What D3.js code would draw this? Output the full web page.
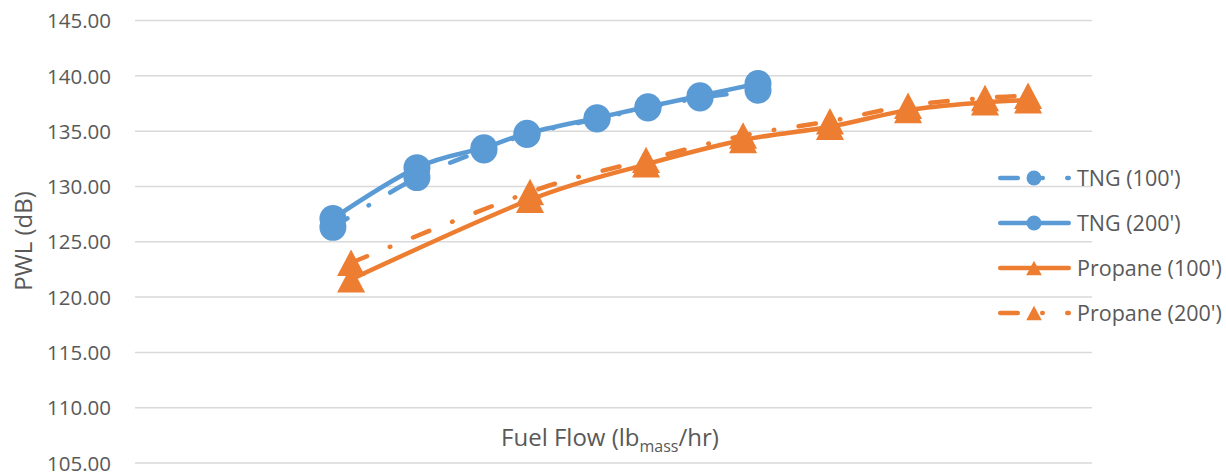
<!DOCTYPE html>
<html>
<head>
<meta charset="utf-8">
<script src="https://cdn.jsdelivr.net/npm/d3@7"></script>
<style>
  html, body { margin: 0; padding: 0; background: #fff; }
  svg { display: block; }
  text { font-family: "Open Sans", "Liberation Sans", sans-serif; fill: #595959; }
</style>
</head>
<body>
<svg id="chart" width="1226" height="476"></svg>
<script>
// ---- data ----
const yTicks = [105, 110, 115, 120, 125, 130, 135, 140, 145];
const tngFlow = [10.34, 14.73, 18.23, 20.48, 24.14, 26.80, 29.52, 32.55];
const tng100 = [126.3, 130.8, 133.3, 134.7, 136.1, 137.1, 138.0, 138.7];
const tng200 = [127.1, 131.7, 133.5, 134.8, 136.2, 137.2, 138.2, 139.3];
const propaneFlow = [11.29, 20.64, 26.70, 31.77, 36.31, 40.39, 44.41, 46.66];
const propane100 = [121.6, 128.8, 132.0, 134.2, 135.4, 136.9, 137.6, 137.8];
const propane200 = [123.1, 129.5, 132.4, 134.6, 135.9, 137.3, 138.0, 138.2];
const seriesNames = ["TNG (100')", "TNG (200')", "Propane (100')", "Propane (200')"];

const BLUE = "#5B9BD5", ORANGE = "#ED7D31";
const series = [
  { name: seriesNames[0], x: tngFlow, y: tng100, color: BLUE, dashed: true, marker: "circle" },
  { name: seriesNames[1], x: tngFlow, y: tng200, color: BLUE, dashed: false, marker: "circle" },
  { name: seriesNames[2], x: propaneFlow, y: propane100, color: ORANGE, dashed: false, marker: "triangle" },
  { name: seriesNames[3], x: propaneFlow, y: propane200, color: ORANGE, dashed: true, marker: "triangle" }
];

const svg = d3.select("#chart");
const plot = { left: 135, right: 1092, top: 20.5, bottom: 463 };
const x = d3.scaleLinear().domain([0, 50]).range([plot.left, plot.right]);
const y = d3.scaleLinear().domain([105, 145]).range([plot.bottom, plot.top]);

const DASH = "17.5 24.5 0.5 24.5";
const LW = 4.5;

// gridlines
svg.append("g").selectAll("line").data(yTicks).join("line")
  .attr("x1", plot.left).attr("x2", plot.right)
  .attr("y1", d => y(d)).attr("y2", d => y(d))
  .attr("stroke", "#D9D9D9").attr("stroke-width", 1.5);

// y axis tick labels
const yAxis = d3.axisLeft(y).tickValues(yTicks).tickFormat(d3.format(".2f")).tickSize(0).tickPadding(0);
const gy = svg.append("g").attr("transform", `translate(111,0)`).call(yAxis);
gy.select(".domain").remove();
gy.selectAll("text").attr("font-size", 20.5).attr("fill", "#595959")
  .style("font-family", '"Open Sans", "Liberation Sans", sans-serif').attr("dy", "0.35em").attr("x", 0);

// axis titles
svg.append("text").attr("transform", "translate(22,241) rotate(-90)")
  .attr("text-anchor", "middle").attr("dominant-baseline", "central")
  .attr("font-size", 24).text("PWL (dB)");

const xt = svg.append("text").attr("x", 610).attr("y", 446).attr("text-anchor", "middle").attr("font-size", 24);
xt.append("tspan").text("Fuel Flow (lb");
xt.append("tspan").attr("dy", 6).attr("font-size", 16).text("mass");
xt.append("tspan").attr("dy", -6).text("/hr)");

// markers
function triPath(w, h) {
  return `M0,${-h / 2}L${w / 2},${h / 2}L${-w / 2},${h / 2}Z`;
}
function drawMarker(g, type, color, size) {
  if (type === "circle") {
    g.append("circle").attr("r", size / 2).attr("fill", color);
  } else {
    g.append("path").attr("d", triPath(size * 1.04, size * 0.98)).attr("fill", color);
  }
}

const line = d3.line().curve(d3.curveCardinal.tension(0)).x(d => x(d[0])).y(d => y(d[1]));

series.forEach(s => {
  const pts = s.x.map((v, i) => [v, s.y[i]]);
  const g = svg.append("g");
  g.append("path").attr("d", line(pts)).attr("fill", "none")
    .attr("stroke", s.color).attr("stroke-width", LW)
    .attr("stroke-linecap", "round").attr("stroke-linejoin", "round")
    .attr("stroke-dasharray", s.dashed ? DASH : null);
  pts.forEach(p => {
    const mg = g.append("g").attr("transform", `translate(${x(p[0])},${y(p[1])})`);
    drawMarker(mg, s.marker, s.color, 27);
  });
});

// legend
const legY = [178, 223, 268, 313];
series.forEach((s, i) => {
  const g = svg.append("g").attr("transform", `translate(0,${legY[i]})`);
  g.append("line").attr("x1", 1000.25).attr("x2", 1068.75).attr("y1", 0).attr("y2", 0)
    .attr("stroke", s.color).attr("stroke-width", LW).attr("stroke-linecap", "round")
    .attr("stroke-dasharray", s.dashed ? DASH : null);
  const mg = g.append("g").attr("transform", "translate(1034,0)");
  drawMarker(mg, s.marker, s.color, 15);
  g.append("text").attr("x", 1077).attr("y", 0).attr("dy", "0.35em")
    .attr("font-size", 21.5).text(s.name);
});
</script>
</body>
</html>
